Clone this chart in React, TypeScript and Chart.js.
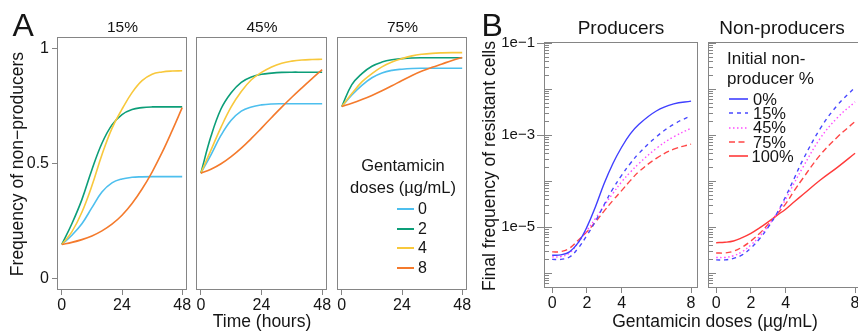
import React, { useEffect, useRef } from 'react';
import { Chart, registerables } from 'chart.js';
Chart.register(...registerables);

const FONT = '"Liberation Sans", Arial, Helvetica, sans-serif';
const AXIS_GRAY = '#858585';
const TEXT = '#151515';

// ---------------- Panel A data ----------------
const TIME_H = [0, 4, 8, 12, 16, 20, 24, 28, 32, 36, 40, 44, 48];
const TIME_TICKS = [0, 24, 48];
const A_Y_TICKS = [0, 0.5, 1];
const A_Y_TICK_LABELS = ['0', '0.5', '1'];
const A_TITLES = ['15%', '45%', '75%'];
const DOSE_LABELS = ['0', '2', '4', '8'];
const DOSE_COLORS = ['#4dbfee', '#0c9e78', '#f8c83c', '#f47a2c'];

const A15_DOSE0 = [0.15, 0.19, 0.24, 0.31, 0.378, 0.418, 0.435, 0.442, 0.444, 0.445, 0.445, 0.445, 0.445];
const A15_DOSE2 = [0.15, 0.24, 0.345, 0.475, 0.59, 0.67, 0.715, 0.737, 0.745, 0.748, 0.748, 0.748, 0.748];
const A15_DOSE4 = [0.15, 0.205, 0.29, 0.405, 0.54, 0.655, 0.738, 0.81, 0.862, 0.89, 0.9, 0.904, 0.905];
const A15_DOSE8 = [0.15, 0.159, 0.171, 0.187, 0.209, 0.238, 0.277, 0.328, 0.391, 0.465, 0.55, 0.645, 0.745];

const A45_DOSE0 = [0.46, 0.54, 0.625, 0.69, 0.73, 0.748, 0.757, 0.761, 0.762, 0.762, 0.762, 0.762, 0.762];
const A45_DOSE2 = [0.46, 0.62, 0.74, 0.81, 0.855, 0.878, 0.89, 0.895, 0.898, 0.899, 0.899, 0.899, 0.899];
const A45_DOSE4 = [0.46, 0.56, 0.66, 0.748, 0.815, 0.866, 0.898, 0.922, 0.938, 0.947, 0.952, 0.954, 0.955];
const A45_DOSE8 = [0.46, 0.477, 0.501, 0.532, 0.569, 0.611, 0.656, 0.702, 0.747, 0.79, 0.831, 0.871, 0.91];

const A75_DOSE0 = [0.75, 0.8, 0.842, 0.875, 0.896, 0.907, 0.912, 0.915, 0.916, 0.916, 0.916, 0.916, 0.916];
const A75_DOSE2 = [0.75, 0.845, 0.893, 0.925, 0.943, 0.953, 0.958, 0.961, 0.962, 0.962, 0.962, 0.962, 0.962];
const A75_DOSE4 = [0.75, 0.806, 0.857, 0.893, 0.922, 0.943, 0.958, 0.97, 0.977, 0.981, 0.983, 0.984, 0.984];
const A75_DOSE8 = [0.75, 0.764, 0.78, 0.798, 0.818, 0.84, 0.863, 0.885, 0.904, 0.92, 0.935, 0.95, 0.963];

// ---------------- Panel B data ----------------
const DOSE_X = [0, 0.5, 1, 1.5, 2, 2.5, 3, 3.5, 4, 4.5, 5, 6, 7, 8];
const DOSE_TICKS = [0, 2, 4, 8];
const B_Y_MAJOR = [1e-1, 1e-3, 1e-5];
const B_Y_MAJOR_LABELS = ['1e\u22121', '1e\u22123', '1e\u22125'];
const B_TITLES = ['Producers', 'Non-producers'];
const B_LEGEND_LABELS = ['0%', '15%', '45%', '75%', '100%'];

const PROD_0 = [2.45e-6, 2.5e-6, 2.9e-6, 4.6e-6, 1.0e-5, 2.8e-5, 8.9e-5, 2.4e-4, 5.4e-4, 1.05e-3, 1.7e-3, 3.3e-3, 4.7e-3, 5.4e-3];
const PROD_15 = [2.0e-6, 2.0e-6, 2.25e-6, 3.5e-6, 6.6e-6, 1.35e-5, 3.1e-5, 6.8e-5, 1.33e-4, 2.4e-4, 4.0e-4, 9.1e-4, 1.7e-3, 2.6e-3];
const PROD_45 = [2.26e-6, 2.3e-6, 2.75e-6, 4.6e-6, 8.4e-6, 1.55e-5, 2.95e-5, 5.4e-5, 9.6e-5, 1.55e-4, 2.4e-4, 5.1e-4, 9.1e-4, 1.4e-3];
const PROD_75 = [2.9e-6, 2.95e-6, 3.5e-6, 5.2e-6, 7.9e-6, 1.3e-5, 2.25e-5, 3.8e-5, 6.2e-5, 1.02e-4, 1.6e-4, 3.1e-4, 4.9e-4, 6.3e-4];

const NONPROD_15 = [1.95e-6, 1.95e-6, 2.1e-6, 2.5e-6, 3.5e-6, 5.6e-6, 1.0e-5, 2.0e-5, 4.6e-5, 1.15e-4, 2.9e-4, 1.38e-3, 4.5e-3, 1.07e-2];
const NONPROD_45 = [2.2e-6, 2.2e-6, 2.4e-6, 2.95e-6, 4.1e-6, 6.3e-6, 1.07e-5, 2.0e-5, 4.0e-5, 9.1e-5, 2.0e-4, 8.5e-4, 2.4e-3, 5.2e-3];
const NONPROD_75 = [2.75e-6, 2.75e-6, 3.0e-6, 3.7e-6, 5.0e-6, 7.3e-6, 1.15e-5, 1.9e-5, 3.2e-5, 6.2e-5, 1.15e-4, 3.7e-4, 9.1e-4, 1.95e-3];
const NONPROD_100 = [4.6e-6, 4.7e-6, 5.0e-6, 5.9e-6, 7.3e-6, 9.6e-6, 1.3e-5, 1.8e-5, 2.45e-5, 3.55e-5, 5.1e-5, 1.05e-4, 2.0e-4, 4.0e-4];

// styles for B series (by legend label)
const B_STYLE: Record<string, { color: string; dash: number[] }> = {
  '0%': { color: '#3f3fff', dash: [] },
  '15%': { color: '#4848ff', dash: [4, 4] },
  '45%': { color: '#ff4cff', dash: [1.5, 2.5] },
  '75%': { color: '#ff4646', dash: [6, 3.5] },
  '100%': { color: '#ff3a3a', dash: [] },
};

// ---------------- layout ----------------
type Box = { l: number; t: number; w: number; h: number };
const A_BOXES: Box[] = [
  { l: 57, t: 37, w: 130, h: 253 },
  { l: 196, t: 37, w: 131, h: 253 },
  { l: 337, t: 37, w: 130, h: 253 },
];
const B_BOXES: Box[] = [
  { l: 544, t: 42, w: 154, h: 246 },
  { l: 708, t: 42, w: 154, h: 246 },
];
const PAD_T = 18;
const PAD_R = 16;
const AX_H = 36;

const framePlugin = {
  id: 'frameBox',
  afterDatasetsDraw(chart: any) {
    const { left, top, right, bottom } = chart.chartArea;
    const ctx = chart.ctx;
    ctx.save();
    ctx.strokeStyle = AXIS_GRAY;
    ctx.lineWidth = 1;
    ctx.strokeRect(Math.round(left) + 0.5, Math.round(top) + 0.5, Math.round(right - left) - 1, Math.round(bottom - top) - 1);
    ctx.restore();
  },
};

const logTickPlugin = {
  id: 'logTicks',
  afterDraw(chart: any, _args: any, opts: any) {
    if (!opts || !opts.enabled) return;
    const s = chart.scales.y;
    const ctx = chart.ctx;
    const left = Math.round(chart.chartArea.left);
    ctx.save();
    ctx.strokeStyle = AXIS_GRAY;
    ctx.lineWidth = 1;
    ctx.beginPath();
    for (const t of s.ticks) {
      const lg = Math.log10(t.value);
      const dec = Math.abs(lg - Math.round(lg)) < 1e-6;
      const py = Math.round(s.getPixelForValue(t.value)) + 0.5;
      ctx.moveTo(left, py);
      ctx.lineTo(left + (dec ? 8 : 5), py);
      if (dec && opts.outer && t.label) {
        ctx.moveTo(left - 7, py);
        ctx.lineTo(left, py);
      }
    }
    ctx.stroke();
    ctx.restore();
  },
};

type SubProps = {
  box: Box;
  yW: number;
  datasets: any[];
  xMin: number;
  xMax: number;
  xTicks: number[];
  yLog: boolean;
  yMin: number;
  yMax: number;
  showYLabels: boolean;
};

function SubChart(p: SubProps) {
  const ref = useRef<HTMLCanvasElement>(null);
  const W = p.yW + p.box.w + PAD_R;
  const H = PAD_T + p.box.h + AX_H;
  useEffect(() => {
    const yScale: any = p.yLog
      ? {
          type: 'logarithmic',
          min: p.yMin,
          max: p.yMax,
          bounds: 'data',
          afterFit: (s: any) => { s.width = p.yW; },
          afterBuildTicks: (s: any) => {
            const arr: any[] = [];
            for (let e = -7; e <= -1; e++) {
              for (let m = 1; m <= 9; m++) {
                const v = m * Math.pow(10, e);
                if (v >= s.min && v <= s.max) arr.push({ value: v });
              }
            }
            s.ticks = arr;
          },
          ticks: {
            display: p.showYLabels,
            autoSkip: false,
            padding: 9,
            font: { family: FONT, size: 15 },
            color: TEXT,
            callback: (v: number) => {
              const i = B_Y_MAJOR.findIndex((m) => Math.abs(Math.log10(m) - Math.log10(v)) < 1e-6);
              return i >= 0 ? B_Y_MAJOR_LABELS[i] : '';
            },
          },
          grid: { display: false, drawTicks: false },
          border: { display: false },
        }
      : {
          type: 'linear',
          min: p.yMin,
          max: p.yMax,
          bounds: 'data',
          afterFit: (s: any) => { s.width = p.yW; },
          afterBuildTicks: (s: any) => { s.ticks = A_Y_TICKS.map((v) => ({ value: v })); },
          ticks: {
            display: p.showYLabels,
            autoSkip: false,
            padding: 3,
            font: { family: FONT, size: 16 },
            color: TEXT,
            callback: (v: number) => {
              const i = A_Y_TICKS.indexOf(v);
              return i >= 0 ? A_Y_TICK_LABELS[i] : '';
            },
          },
          grid: p.showYLabels
            ? { display: true, drawOnChartArea: false, drawTicks: true, tickLength: 5, color: AXIS_GRAY, lineWidth: 1 }
            : { display: false, drawTicks: false },
          border: { display: false },
        };
    const chart = new Chart(ref.current as HTMLCanvasElement, {
      type: 'line',
      data: { datasets: p.datasets },
      plugins: [framePlugin, logTickPlugin],
      options: {
        animation: false,
        responsive: false,
        devicePixelRatio: 1,
        layout: { padding: { left: 0, top: PAD_T, right: PAD_R, bottom: 0 } },
        plugins: {
          legend: { display: false },
          tooltip: { enabled: false },
          title: { display: false },
          logTicks: { enabled: p.yLog, outer: p.showYLabels },
        } as any,
        elements: { point: { radius: 0 } },
        scales: {
          x: {
            type: 'linear',
            min: p.xMin,
            max: p.xMax,
            bounds: 'data',
            afterFit: (s: any) => { s.height = AX_H; },
            afterBuildTicks: (s: any) => { s.ticks = p.xTicks.map((v) => ({ value: v })); },
            ticks: {
              autoSkip: false,
              maxRotation: 0,
              padding: 1,
              font: { family: FONT, size: 16 },
              color: TEXT,
              callback: (v: number) => String(v),
            },
            grid: { display: true, drawOnChartArea: false, drawTicks: true, tickLength: 5, color: AXIS_GRAY, lineWidth: 1 },
            border: { display: false },
          },
          y: yScale,
        },
      } as any,
    });
    return () => chart.destroy();
  }, []);
  return (
    <canvas
      ref={ref}
      width={W}
      height={H}
      style={{ position: 'absolute', left: p.box.l - p.yW, top: p.box.t - PAD_T, width: W, height: H }}
    />
  );
}

function Txt(props: { x: number; y: number; size: number; anchor?: 'start' | 'middle'; children: any }) {
  const { x, y, size, anchor = 'start' } = props;
  return (
    <div
      style={{
        position: 'absolute',
        left: x,
        top: y - 0.8465 * size,
        fontSize: size,
        lineHeight: 1,
        fontFamily: FONT,
        color: TEXT,
        whiteSpace: 'nowrap',
        transform: anchor === 'middle' ? 'translateX(-50%)' : undefined,
      }}
    >
      {props.children}
    </div>
  );
}

function VTxt(props: { x: number; y: number; size: number; children: any }) {
  const { x, y, size } = props;
  return (
    <div style={{ position: 'absolute', left: x, top: y, width: 0, height: 0, transform: 'rotate(-90deg)', transformOrigin: '0 0' }}>
      <div
        style={{
          position: 'absolute',
          left: 0,
          top: -0.8465 * size,
          fontSize: size,
          lineHeight: 1,
          fontFamily: FONT,
          color: TEXT,
          whiteSpace: 'nowrap',
          transform: 'translateX(-50%)',
        }}
      >
        {props.children}
      </div>
    </div>
  );
}

function LegLine(props: { x: number; y: number; w: number; color: string; dash: number[]; lw: number }) {
  const { x, y, w, color, dash, lw } = props;
  return (
    <svg style={{ position: 'absolute', left: x, top: y - 3 }} width={w} height={6}>
      <line x1={0} y1={3} x2={w} y2={3} stroke={color} strokeWidth={lw} strokeDasharray={dash.length ? dash.join(' ') : undefined} />
    </svg>
  );
}

function aSeries(vals: number[][]) {
  return vals.map((v, i) => ({
    label: DOSE_LABELS[i],
    data: TIME_H.map((t, j) => ({ x: t, y: v[j] })),
    borderColor: DOSE_COLORS[i],
    borderWidth: 1.6,
    pointRadius: 0,
    fill: false,
    tension: 0.4,
    order: 4 - i,
  }));
}

function bSeries(list: [string, number[]][]) {
  return list.map(([lab, vals]) => ({
    label: lab,
    data: DOSE_X.map((d, j) => ({ x: d, y: vals[j] })),
    borderColor: B_STYLE[lab].color,
    borderDash: B_STYLE[lab].dash,
    borderWidth: 1.4,
    pointRadius: 0,
    fill: false,
    tension: 0.4,
  }));
}

export default function App() {
  const A_DATA = [
    [A15_DOSE0, A15_DOSE2, A15_DOSE4, A15_DOSE8],
    [A45_DOSE0, A45_DOSE2, A45_DOSE4, A45_DOSE8],
    [A75_DOSE0, A75_DOSE2, A75_DOSE4, A75_DOSE8],
  ];
  const B_DATA: [string, number[]][][] = [
    [['0%', PROD_0], ['15%', PROD_15], ['45%', PROD_45], ['75%', PROD_75]],
    [['15%', NONPROD_15], ['45%', NONPROD_45], ['75%', NONPROD_75], ['100%', NONPROD_100]],
  ];
  const aTitleX = [122.5, 262, 402.5];
  const bTitleX = [621, 782];
  return (
    <div style={{ position: 'fixed', left: 0, top: 0, width: 858, height: 331, overflow: 'hidden', background: '#fff' }}>
      {A_BOXES.map((b, i) => (
        <SubChart
          key={'a' + i}
          box={b}
          yW={i === 0 ? 50 : 12}
          datasets={aSeries(A_DATA[i])}
          xMin={-1.92}
          xMax={49.92}
          xTicks={TIME_TICKS}
          yLog={false}
          yMin={-0.048}
          yMax={1.052}
          showYLabels={i === 0}
        />
      ))}
      {B_BOXES.map((b, i) => (
        <SubChart
          key={'b' + i}
          box={b}
          yW={i === 0 ? 62 : 12}
          datasets={bSeries(B_DATA[i])}
          xMin={-0.47}
          xMax={8.4}
          xTicks={DOSE_TICKS}
          yLog={true}
          yMin={Math.pow(10, -6.32)}
          yMax={Math.pow(10, -0.985)}
          showYLabels={i === 0}
        />
      ))}

      <Txt x={12.5} y={36} size={32}>A</Txt>
      <Txt x={481.5} y={36} size={32}>B</Txt>

      {A_TITLES.map((t, i) => (
        <Txt key={t} x={aTitleX[i]} y={32.5} size={15.5} anchor="middle">{t}</Txt>
      ))}
      {B_TITLES.map((t, i) => (
        <Txt key={t} x={bTitleX[i]} y={34} size={19} anchor="middle">{t}</Txt>
      ))}

      <VTxt x={24.2} y={164} size={17.5}>Frequency of non{'\u2212'}producers</VTxt>
      <Txt x={262} y={327.5} size={17.5} anchor="middle">Time (hours)</Txt>
      <VTxt x={496} y={166} size={17.5}>Final frequency of resistant cells</VTxt>
      <Txt x={715} y={327.5} size={17.5} anchor="middle">Gentamicin doses (µg/mL)</Txt>

      {/* Legend A */}
      <Txt x={403} y={170.7} size={16.5} anchor="middle">Gentamicin</Txt>
      <Txt x={403} y={192.7} size={16.5} anchor="middle">doses (µg/mL)</Txt>
      {DOSE_LABELS.map((d, i) => (
        <React.Fragment key={'la' + d}>
          <LegLine x={397} y={209 + i * 19.5} w={17} color={DOSE_COLORS[i]} dash={[]} lw={2} />
          <Txt x={418} y={209 + i * 19.5 + 5.8} size={16}>{d}</Txt>
        </React.Fragment>
      ))}

      {/* Legend B */}
      <Txt x={727} y={64} size={17}>Initial non-</Txt>
      <Txt x={727} y={84} size={17}>producer %</Txt>
      {B_LEGEND_LABELS.map((lab, i) => (
        <React.Fragment key={'lb' + lab}>
          <LegLine x={729} y={99 + i * 14.3} w={19} color={B_STYLE[lab].color} dash={B_STYLE[lab].dash} lw={1.6} />
          <Txt x={lab === '100%' ? 751.5 : 753} y={99 + i * 14.3 + 5.8} size={16.5}>{lab}</Txt>
        </React.Fragment>
      ))}
    </div>
  );
}
